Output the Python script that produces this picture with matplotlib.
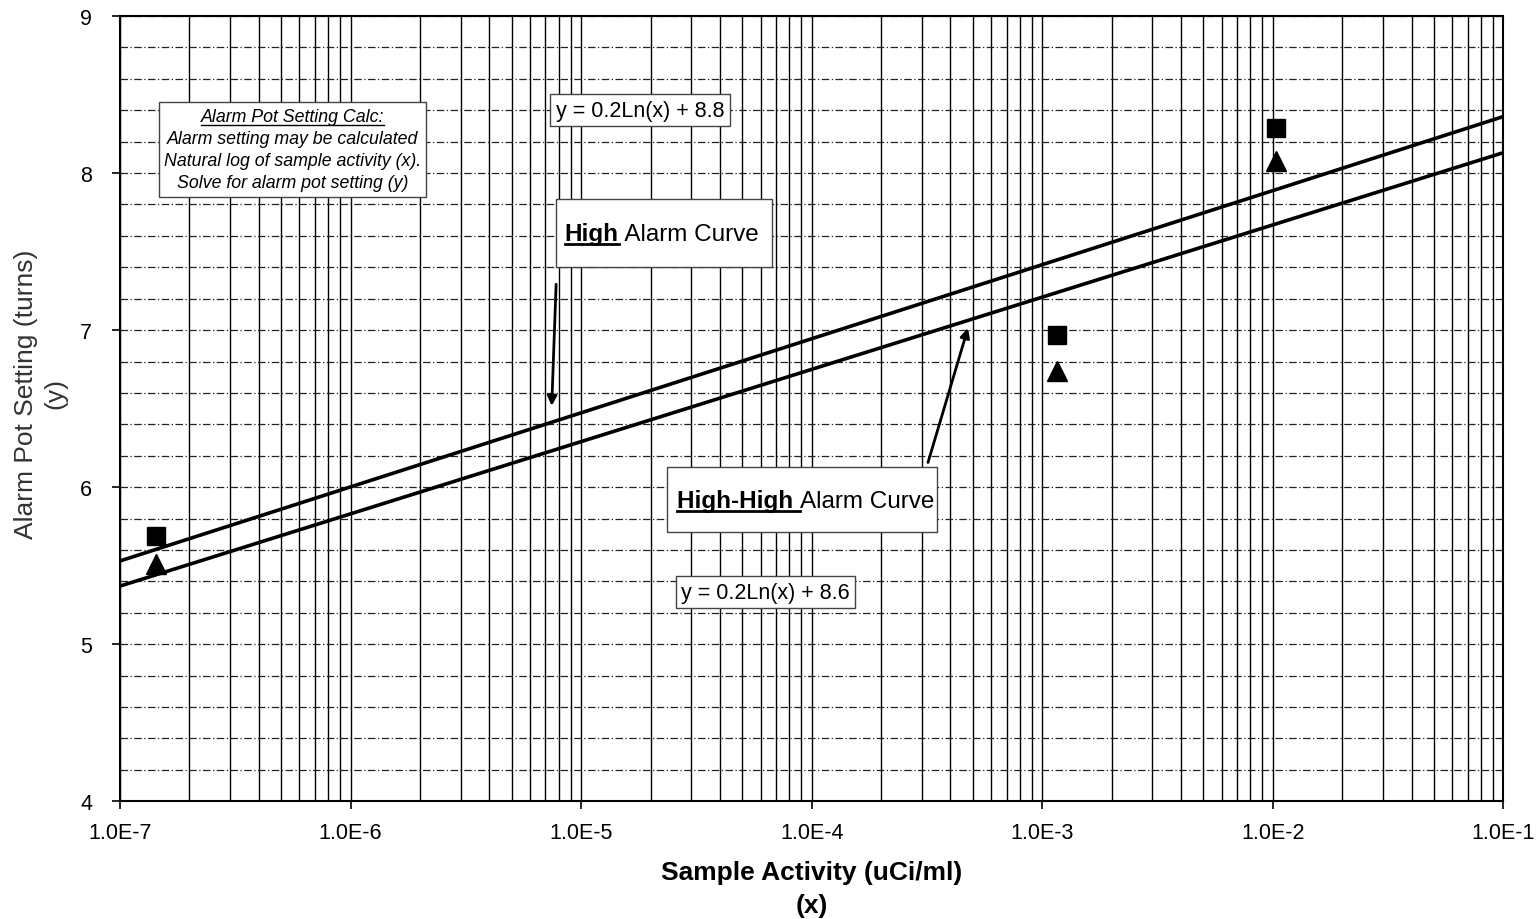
import matplotlib.pyplot as plt
from matplotlib.patches import Rectangle
from matplotlib.lines import Line2D
from matplotlib.ticker import LogLocator, NullFormatter, MultipleLocator

plt.rcParams['font.family'] = ['Liberation Sans', 'DejaVu Sans']

# trend lines (read at the axis edges)
line_x = [1e-7, 1e-1]
high_y = [5.53, 8.36]       # y = 0.2Ln(x) + 8.8
highhigh_y = [5.37, 8.13]   # y = 0.2Ln(x) + 8.6

# measured points
sample_x = [1.43e-7, 1.16e-3, 1.035e-2]
high_pts = [5.69, 6.97, 8.29]
highhigh_pts = [5.51, 6.74, 8.08]

x_ticks = [1e-7, 1e-6, 1e-5, 1e-4, 1e-3, 1e-2, 1e-1]
x_labels = ["1.0E-7", "1.0E-6", "1.0E-5", "1.0E-4", "1.0E-3", "1.0E-2", "1.0E-1"]
y_ticks = [4, 5, 6, 7, 8, 9]

fig = plt.figure(figsize=(15.38, 9.2), dpi=100)
ax = fig.add_axes([0.078, 0.128, 0.8995, 0.8535])

ax.set_xscale('log')
ax.set_xlim(1e-7, 1e-1)
ax.set_ylim(4, 9)
ax.set_xticks(x_ticks)
ax.set_xticklabels(x_labels)
ax.xaxis.set_minor_locator(LogLocator(base=10, subs=range(2, 10)))
ax.xaxis.set_minor_formatter(NullFormatter())
ax.set_yticks(y_ticks)
ax.yaxis.set_minor_locator(MultipleLocator(0.2))

ax.grid(which='both', axis='x', color='black', lw=1.0, ls='-')
ax.grid(which='both', axis='y', color='#222222', lw=0.9, ls=(0, (6, 2, 1, 2)))
ax.set_axisbelow(True)

ax.tick_params(axis='both', which='major', labelsize=15.5, length=6, width=1.2, direction='out', pad=9)
ax.tick_params(axis='y', which='major', pad=14)
ax.tick_params(axis='both', which='minor', length=0)
for s in ax.spines.values():
    s.set_linewidth(1.5)
    s.set_color('black')

ax.plot(line_x, high_y, color='black', lw=2.6, zorder=3)
ax.plot(line_x, highhigh_y, color='black', lw=2.6, zorder=3)
ax.plot(sample_x, high_pts, 's', color='black', ms=13, ls='none', zorder=4)
ax.plot(sample_x, highhigh_pts, '^', color='black', ms=14, ls='none', zorder=4)

ax.set_xlabel("Sample Activity (uCi/ml)\n(x)", fontsize=19, fontweight='bold', labelpad=12,
              linespacing=1.5)
ax.set_ylabel("Alarm Pot Setting (turns)\n(y)", fontsize=19, color='#333333',
              linespacing=1.3)
ax.yaxis.set_label_coords(-0.038, 0.52)

# note box
note = ax.text(5.6e-7, 8.15,
               "Alarm Pot Setting Calc:\nAlarm setting may be calculated\n"
               "Natural log of sample activity (x).\nSolve for alarm pot setting (y)",
               fontsize=12.8, style='italic', ha='center', va='center', linespacing=1.4,
               bbox=dict(boxstyle='square,pad=0.3', fc='white', ec='#444444', lw=1), zorder=5)

eq1 = ax.text(1.8e-5, 8.40, "y = 0.2Ln(x) + 8.8", fontsize=15.5, ha='center', va='center',
              bbox=dict(boxstyle='square,pad=0.25', fc='white', ec='#444444', lw=1), zorder=5)
eq2 = ax.text(6.3e-5, 5.33, "y = 0.2Ln(x) + 8.6", fontsize=15.5, ha='center', va='center',
              bbox=dict(boxstyle='square,pad=0.25', fc='white', ec='#444444', lw=1), zorder=5)

# curve name boxes
ax.add_patch(Rectangle((0.315, 0.680), 0.156, 0.087, transform=ax.transAxes,
                       fc='white', ec='#444444', lw=1, zorder=5))
ax.add_patch(Rectangle((0.3955, 0.3427), 0.1952, 0.0828, transform=ax.transAxes,
                       fc='white', ec='#444444', lw=1, zorder=5))
hi_b = ax.text(0.3215, 0.7235, "High", transform=ax.transAxes, fontsize=17.5,
               fontweight='bold', ha='left', va='center', zorder=6)
hi_n = ax.annotate(" Alarm Curve", xy=(1, 0), xycoords=hi_b, fontsize=17.5,
                   ha='left', va='bottom', zorder=6)
hh_b = ax.text(0.4025, 0.3835, "High-High ", transform=ax.transAxes, fontsize=17.5,
               fontweight='bold', ha='left', va='center', zorder=6)
hh_n = ax.annotate("Alarm Curve", xy=(1, 0), xycoords=hh_b, fontsize=17.5,
                   ha='left', va='bottom', zorder=6)

# arrows
ax.annotate("", xy=(7.45e-6, 6.50), xytext=(7.8e-6, 7.31),
            arrowprops=dict(arrowstyle='-|>', color='black', lw=2, mutation_scale=14), zorder=6)
ax.annotate("", xy=(4.8e-4, 7.03), xytext=(3.17e-4, 6.14),
            arrowprops=dict(arrowstyle='-|>', color='black', lw=2, mutation_scale=14), zorder=6)

# underlines
fig.canvas.draw()
r = fig.canvas.get_renderer()
inv = fig.transFigure.inverted()


def hline(x0, x1, y, lw):
    p0 = inv.transform((x0, y))
    p1 = inv.transform((x1, y))
    fig.add_artist(Line2D([p0[0], p1[0]], [p0[1], p1[1]], color='black', lw=lw, zorder=7))


for t in (hi_b, hh_b):
    bb = t.get_window_extent(r)
    hline(bb.x0, bb.x1, bb.y0 + 1, 2)

bb = note.get_window_extent(r)
tmp = ax.text(0, 0, "Alarm Pot Setting Calc:", transform=None, fontsize=12.8, style='italic')
w = tmp.get_window_extent(r).width
tmp.remove()
lh = bb.height / 4
cx = (bb.x0 + bb.x1) / 2
hline(cx - w / 2, cx + w / 2, bb.y1 - lh + 4, 1)

fig.savefig("out.png", dpi=100)
